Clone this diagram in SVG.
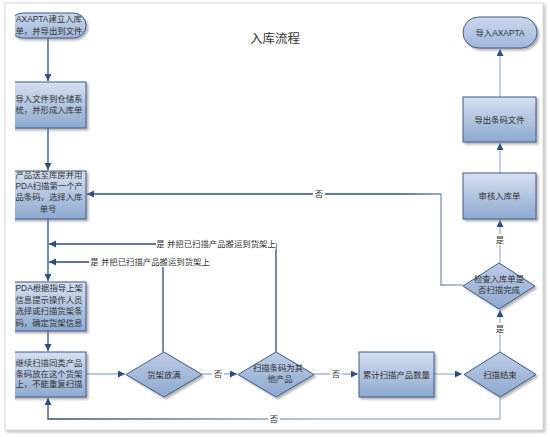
<svg xmlns="http://www.w3.org/2000/svg" width="550" height="437" viewBox="0 0 550 437">
<style>
text{font-family:"Liberation Sans","Noto Sans CJK SC",sans-serif;font-size:8.4px;fill:#333;}
.c{text-anchor:middle;}
.s{text-anchor:start;}
.box{fill:url(#gBox);stroke:#3c5d8c;stroke-width:1;filter:url(#sh);}
.dia{fill:url(#gDia);stroke:#3c5d8c;stroke-width:1;filter:url(#sh);}
.term{fill:url(#gTerm);stroke:#3c5d8c;stroke-width:1;filter:url(#sh);}
.dk{fill:none;stroke:#2d4f80;stroke-width:1.3;}
.lt{fill:none;stroke:#a3b7d5;stroke-width:1.3;}
.lb{fill:#fff;}
</style>
<defs>
<linearGradient id="gBox" x1="0" y1="0" x2="0" y2="1"><stop offset="0" stop-color="#d6e0f0"/><stop offset="1" stop-color="#8ea9d0"/></linearGradient>
<linearGradient id="gDia" x1="0" y1="0" x2="0" y2="1"><stop offset="0" stop-color="#bccce4"/><stop offset="1" stop-color="#8fa9d0"/></linearGradient>
<linearGradient id="gTerm" x1="0" y1="0" x2="0" y2="1"><stop offset="0" stop-color="#c9d7ec"/><stop offset="1" stop-color="#a0b7d9"/></linearGradient>
<linearGradient id="gLoopB" gradientUnits="userSpaceOnUse" x1="48" y1="0" x2="320" y2="0"><stop offset="0" stop-color="#2d4f80"/><stop offset="1" stop-color="#a3b7d5"/></linearGradient>
<linearGradient id="gLoopT" gradientUnits="userSpaceOnUse" x1="400" y1="0" x2="463" y2="0"><stop offset="0" stop-color="#2d4f80"/><stop offset="1" stop-color="#a3b7d5"/></linearGradient>
<filter id="sh" x="-10%" y="-10%" width="130%" height="130%"><feDropShadow dx="2" dy="2" stdDeviation="0.8" flood-color="#808080" flood-opacity="0.6"/></filter>
<filter id="psh" x="-5%" y="-5%" width="110%" height="110%"><feDropShadow dx="2" dy="2" stdDeviation="1.5" flood-color="#999" flood-opacity="0.6"/></filter>
<marker id="ar" markerUnits="userSpaceOnUse" markerWidth="8" markerHeight="8" refX="7" refY="3.5" orient="auto"><path d="M0,0 L7,3.5 L0,7 z" fill="#2d4f80"/></marker>
<clipPath id="pg"><rect x="15" y="0" width="535" height="437"/></clipPath>
</defs>
<rect x="0" y="0" width="550" height="437" fill="#fff"/>
<rect id="page" x="5" y="3" width="538" height="427" fill="#fff" stroke="#d6d6d6" stroke-width="1" filter="url(#psh)"/>
<text id="title" x="275" y="43" class="c" style="font-size:12.5px">入库流程</text>

<g id="connectors">
<line class="dk" x1="48" y1="38" x2="48" y2="81" marker-end="url(#ar)"/>
<line class="dk" x1="48" y1="128" x2="48" y2="170" marker-end="url(#ar)"/>
<line class="dk" x1="48" y1="219" x2="48" y2="281" marker-end="url(#ar)"/>
<line class="dk" x1="48" y1="331" x2="48" y2="351" marker-end="url(#ar)"/>
<line class="lt" x1="86" y1="374" x2="125" y2="374" marker-end="url(#ar)"/>
<line class="lt" x1="202" y1="374" x2="237" y2="374" marker-end="url(#ar)"/>
<line class="lt" x1="314" y1="374" x2="358" y2="374" marker-end="url(#ar)"/>
<line class="lt" x1="434" y1="374" x2="462" y2="374" marker-end="url(#ar)"/>
<polyline fill="none" stroke="url(#gLoopB)" stroke-width="1.3" points="500,397 500,419 48,419 48,398" marker-end="url(#ar)"/>
<line class="lt" x1="500" y1="352" x2="500" y2="310" marker-end="url(#ar)"/>
<line class="lt" x1="500" y1="263" x2="500" y2="220" marker-end="url(#ar)"/>
<line class="lt" x1="500" y1="173" x2="500" y2="143" marker-end="url(#ar)"/>
<line class="lt" x1="500" y1="97" x2="500" y2="49" marker-end="url(#ar)"/>
<polyline fill="none" stroke="url(#gLoopT)" stroke-width="1.3" points="463,285 441,285 441,194 87,194" marker-end="url(#ar)"/>
<polyline class="dk" points="163,352 163,262 49,262" marker-end="url(#ar)"/>
<polyline class="dk" points="276,352 276,244 49,244" marker-end="url(#ar)"/>
<rect class="lb" x="313" y="188" width="12" height="11"/>
<text x="319" y="197" class="c">否</text>
<rect class="lb" x="156" y="238" width="120" height="11"/>
<text x="216" y="247" class="c">是 并把已扫描产品搬运到货架上</text>
<rect class="lb" x="89" y="256" width="122" height="11"/>
<text x="150" y="265" class="c">是 并把已扫描产品搬运到货架上</text>
<rect class="lb" x="212" y="368" width="12" height="11"/>
<text x="218" y="377" class="c">否</text>
<rect class="lb" x="330" y="368" width="12" height="11"/>
<text x="336" y="377" class="c">否</text>
<rect class="lb" x="268" y="413" width="12" height="11"/>
<text x="274" y="422" class="c">否</text>
<rect class="lb" x="494" y="323" width="12" height="11"/>
<text x="500" y="332" class="c">是</text>
<rect class="lb" x="494" y="234" width="12" height="11"/>
<text x="500" y="243" class="c">是</text>
</g>

<g clip-path="url(#pg)">
<g id="n1">
<rect class="term" x="10" y="13" width="76" height="25" rx="12.5"/>
<text x="16" y="22" class="s">AXAPTA建立入库</text>
<text x="15.5" y="33.5" class="s">单，并导出到文件</text>
</g>
<g id="n2">
<rect class="box" x="10" y="82" width="76" height="46"/>
<text x="15.5" y="102" class="s">导入文件到仓储系</text>
<text x="15.5" y="113" class="s">统，并形成入库单</text>
</g>
<g id="n3">
<rect class="box" x="10" y="171" width="76" height="48"/>
<text x="15.5" y="178" class="s">产品送至库房并用</text>
<text x="15.5" y="189" class="s">PDA扫描第一个产</text>
<text x="15.5" y="200" class="s">品条码，选择入库</text>
<text x="48" y="212" class="c">单号</text>
</g>
<g id="n4">
<rect class="box" x="10" y="282" width="76" height="49"/>
<text x="15.5" y="291" class="s">PDA根据指导上架</text>
<text x="15.5" y="302.5" class="s">信息提示操作人员</text>
<text x="15.5" y="314" class="s">选择或扫描货架条</text>
<text x="15.5" y="325.5" class="s">码，确定货架信息</text>
</g>
<g id="n5">
<rect class="box" x="10" y="352" width="76" height="45"/>
<text x="15.5" y="366" class="s">继续扫描同类产品</text>
<text x="15.5" y="376.5" class="s">条码放在这个货架</text>
<text x="15.5" y="387" class="s">上，不能重复扫描</text>
</g>
</g>

<g id="n6">
<polygon class="dia" points="164,352 202,374.5 164,397 126,374.5"/>
<text x="164" y="377.5" class="c">货架放满</text>
</g>
<g id="n7">
<polygon class="dia" points="276,352 314,374.5 276,397 238,374.5"/>
<text x="278" y="371" class="c">扫描条码为其</text>
<text x="280" y="382" class="c">他产品</text>
</g>
<g id="n8">
<rect class="box" x="359" y="352" width="75" height="45"/>
<text x="396.5" y="377.5" class="c">累计扫描产品数量</text>
</g>
<g id="n9">
<polygon class="dia" points="500,352 536,374.5 500,397 464,374.5"/>
<text x="500" y="377.5" class="c">扫描结束</text>
</g>
<g id="n10">
<polygon class="dia" points="499,263 535,286 499,309 463,286"/>
<text x="499" y="282" class="c">检查入库单是</text>
<text x="499" y="293" class="c">否扫描完成</text>
</g>
<g id="n11">
<rect class="box" x="463" y="173" width="73" height="46"/>
<text x="499.5" y="199" class="c">审核入库单</text>
</g>
<g id="n12">
<rect class="box" x="463" y="97" width="73" height="45"/>
<text x="499.5" y="122.5" class="c">导出条码文件</text>
</g>
<g id="n13">
<rect class="term" x="463" y="17" width="74" height="31" rx="15.5"/>
<text x="500" y="35.5" class="c">导入AXAPTA</text>
</g>
</svg>
